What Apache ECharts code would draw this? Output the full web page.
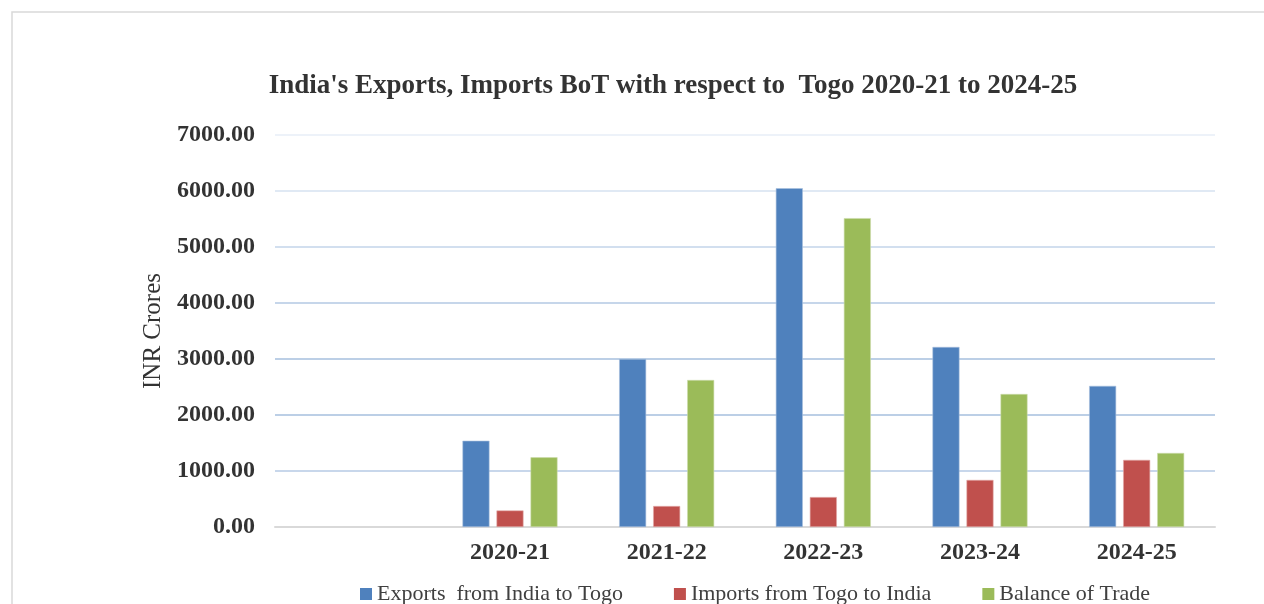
<!DOCTYPE html>
<html>
<head>
<meta charset="utf-8">
<title>India - Togo trade</title>
<script src="https://cdn.jsdelivr.net/npm/echarts@6/dist/echarts.min.js"></script>
<style>
  html, body { margin: 0; padding: 0; background: #fff; }
  #chart { width: 1264px; height: 604px; }
</style>
</head>
<body>
<div id="chart"></div>
<script>
  // first slot is empty in the original sheet
  const years = ['', '2020-21', '2021-22', '2022-23', '2023-24', '2024-25'];
  const exportsToTogo = [null, 1540, 3000, 6050, 3215, 2520];
  const importsFromTogo = [null, 295, 375, 535, 840, 1198];
  const balanceOfTrade = [null, 1245, 2625, 5515, 2375, 1322];
  const yTicks = [0, 1000, 2000, 3000, 4000, 5000, 6000, 7000];

  const serif = '"Liberation Serif", "Times New Roman", serif';

  const chart = echarts.init(document.getElementById('chart'));

  const option = {
    backgroundColor: '#fff',
    animation: false,
    textStyle: { fontFamily: serif },
    graphic: [
      {
        type: 'rect',
        shape: { x: 12, y: 12, width: 1300, height: 640 },
        style: { fill: 'none', stroke: '#d9d9d9', lineWidth: 1.5 },
        silent: true,
      },
    ],
    title: {
      text: "India's Exports, Imports BoT with respect to  Togo 2020-21 to 2024-25",
      left: 668,
      top: 68,
      textAlign: 'center',
      textStyle: { fontFamily: serif, fontWeight: 'bold', fontSize: 27, color: '#333' },
    },
    legend: {
      left: 355,
      top: 578,
      itemWidth: 12,
      itemHeight: 12,
      itemGap: 51,
      icon: 'rect',
      itemStyle: { borderWidth: 0 },
      textStyle: { fontFamily: serif, fontSize: 22, color: '#404040' },
      data: ['Exports  from India to Togo', 'Imports from Togo to India', 'Balance of Trade'],
    },
    grid: { left: 275, right: 49, top: 135, bottom: 77 },
    xAxis: {
      type: 'category',
      data: years,
      axisTick: { show: false },
      axisLine: { lineStyle: { color: '#d9d9d9', width: 2 } },
      axisLabel: { margin: 14, fontFamily: serif, fontWeight: 'bold', fontSize: 24, color: '#333' },
    },
    yAxis: {
      type: 'value',
      min: yTicks[0],
      max: yTicks[yTicks.length - 1],
      interval: 1000,
      name: 'INR Crores',
      nameLocation: 'middle',
      nameGap: 106,
      nameTextStyle: { fontFamily: serif, fontSize: 25, color: '#333' },
      axisLine: { show: false },
      axisTick: { show: false },
      axisLabel: {
        margin: 20,
        fontFamily: serif,
        fontWeight: 'bold',
        fontSize: 24,
        color: '#333',
        formatter: (v) => v.toFixed(2),
      },
      splitLine: {
        lineStyle: {
          width: 2,
          color: ['#d9d9d9', '#c8d7eb', '#bccfe6', '#bccfe6', '#c6d6ea', '#d2dfef', '#e0e9f4', '#edf2f9'],
        },
      },
    },
    series: [
      {
        name: 'Exports  from India to Togo',
        type: 'bar',
        data: exportsToTogo,
        barWidth: 27,
        barGap: '26%',
        itemStyle: { color: '#4f81bd', borderColor: '#a7c0de', borderWidth: 0.6 },
      },
      {
        name: 'Imports from Togo to India',
        type: 'bar',
        data: importsFromTogo,
        barWidth: 27,
        barGap: '26%',
        itemStyle: { color: '#c0504d', borderColor: '#e0a8a6', borderWidth: 0.6 },
      },
      {
        name: 'Balance of Trade',
        type: 'bar',
        data: balanceOfTrade,
        barWidth: 27,
        barGap: '26%',
        itemStyle: { color: '#9bbb59', borderColor: '#cddcac', borderWidth: 0.6 },
      },
    ],
  };

  chart.setOption(option);
</script>
</body>
</html>
